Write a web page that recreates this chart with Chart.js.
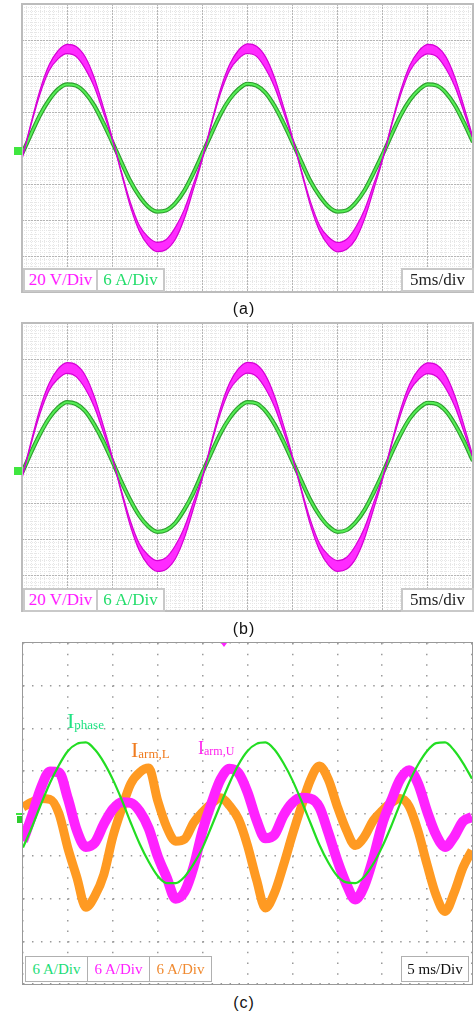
<!DOCTYPE html>
<html>
<head>
<meta charset="utf-8">
<script src="https://cdn.jsdelivr.net/npm/chart.js@4.4.1/dist/chart.umd.min.js"></script>
<style>
  body { margin: 0; width: 474px; height: 1017px; background: #fff; position: relative; overflow: hidden; font-family: "Liberation Serif", "Times New Roman", serif; }
  canvas { position: absolute; }
  .frame { position: absolute; box-sizing: border-box; pointer-events: none; }
  .box { position: absolute; box-sizing: border-box; background: #fff; text-align: center; white-space: nowrap; }
  .boxAB { height: 24px; border: 2px solid #c9c9c9; font-size: 17px; line-height: 20px; }
  .boxC { height: 26px; border: 1px solid #b0b0b0; font-size: 15px; line-height: 24px; }
  .cap { position: absolute; width: 60px; text-align: center; font-family: "Liberation Sans", Arial, sans-serif; font-size: 16px; letter-spacing: 1px; line-height: 20px; color: #111; }
  .lbl { position: absolute; white-space: nowrap; line-height: 1; }
  .lbl span.sub { vertical-align: -1px; line-height: 1; }
  .gnd { position: absolute; background: #3fe63f; }
</style>
</head>
<body>

<canvas id="chartA" width="451" height="288" style="left:22px;top:4px"></canvas>
<canvas id="chartB" width="451" height="288" style="left:22px;top:323px"></canvas>
<canvas id="chartC" width="449" height="341" style="left:23px;top:643px"></canvas>

<div class="frame" style="left:21px;top:3px;width:453px;height:290px;border:2px solid #bcbcbc"></div>
<div class="frame" style="left:21px;top:322px;width:453px;height:290px;border:2px solid #bcbcbc"></div>
<div class="frame" style="left:22px;top:642px;width:451px;height:343px;border:1px solid #999"></div>

<div class="gnd" style="left:14px;top:147px;width:8px;height:8px"></div>
<div class="gnd" style="left:14px;top:467px;width:8px;height:8px"></div>
<div class="gnd" style="left:16px;top:813px;width:6px;height:2px"></div>
<div class="gnd" style="left:17px;top:816px;width:5px;height:7px;background:#2ecc2e"></div>
<div style="position:absolute;left:221px;top:643px;width:0;height:0;border-left:3px solid transparent;border-right:3px solid transparent;border-top:4px solid #ff22ff"></div>

<!-- panel (a) legend -->
<div class="box boxAB" style="left:23px;top:268px;width:75px;color:#ff1aff">20 V/Div</div>
<div class="box boxAB" style="left:96px;top:268px;width:69px;color:#22dd6a">6 A/Div</div>
<div class="box boxAB" style="left:401px;top:268px;width:73px;color:#222">5ms/div</div>
<div class="cap" style="left:214px;top:299px">(a)</div>

<!-- panel (b) legend -->
<div class="box boxAB" style="left:23px;top:588px;width:75px;color:#ff1aff">20 V/Div</div>
<div class="box boxAB" style="left:96px;top:588px;width:69px;color:#22dd6a">6 A/Div</div>
<div class="box boxAB" style="left:401px;top:588px;width:73px;color:#222">5ms/div</div>
<div class="cap" style="left:214px;top:619px">(b)</div>

<!-- panel (c) labels and legend -->
<div class="lbl" style="left:67px;top:710px;font-size:22px;color:#1fe383">I<span class="sub" style="font-size:13px">phase</span></div>
<div class="lbl" style="left:131px;top:739px;font-size:22px;color:#f07b1e">I<span class="sub" style="font-size:13px">arm,L</span></div>
<div class="lbl" style="left:198px;top:739px;font-size:18px;color:#ff22ee">I<span class="sub" style="font-size:12px">arm,U</span></div>
<div class="box boxC" style="left:25px;top:956px;width:63px;color:#22dd77">6 A/Div</div>
<div class="box boxC" style="left:87px;top:956px;width:63px;color:#ff22ff">6 A/Div</div>
<div class="box boxC" style="left:149px;top:956px;width:63px;color:#f08a30">6 A/Div</div>
<div class="box boxC" style="left:401px;top:956px;width:68px;color:#111">5 ms/Div</div>
<div class="cap" style="left:214px;top:993px">(c)</div>

<script>
// time base, 1 ms samples across 10 div x 5 ms
const timeMs = [0,1,2,3,4,5,6,7,8,9,10,11,12,13,14,15,16,17,18,19,20,21,22,23,24,25,
  26,27,28,29,30,31,32,33,34,35,36,37,38,39,40,41,42,43,44,45,46,47,48,49,50];

const VOLT_DIV = 20;
const AMP_DIV = 6;

// (a) voltage band edges (V) and phase current (A)
const vOuterA = [-6.3,13.8,32.3,46.1,54.1,57.6,56.4,50.7,39.2,23.0,5.8,-13.8,-32.3,-46.1,-54.1,-57.6,-56.4,-50.7,-39.2,-23.0,
  -6.1,14.0,32.5,46.2,54.3,57.8,56.5,50.6,39.0,22.8,5.6,-13.9,-32.4,-46.2,-54.2,-57.7,-56.3,-50.6,-39.1,-22.9,
  -6.2,13.9,32.2,46.0,54.0,57.6,56.3,50.6,39.1,22.9,5.8];
const vInnerA = [-5.5,12.8,30.0,42.9,49.5,52.4,50.8,44.1,34.1,20.0,5.0,-12.8,-30.0,-42.9,-49.5,-52.4,-50.8,-44.1,-34.1,-20.0,
  -5.3,13.0,30.2,43.0,49.6,52.5,50.9,44.0,33.9,19.8,4.9,-12.9,-30.1,-43.0,-49.6,-52.5,-50.7,-44.0,-34.0,-19.9,
  -5.4,12.9,29.9,42.8,49.4,52.3,50.7,44.0,34.0,19.9,5.0];
const iGridA = [-1.0,2.3,5.5,8.0,9.8,10.6,10.4,9.2,7.1,4.2,1.0,-2.3,-5.5,-8.0,-9.8,-10.6,-10.4,-9.2,-7.1,-4.2,
  -0.9,2.4,5.6,8.1,9.8,10.7,10.4,9.2,7.0,4.1,0.9,-2.4,-5.6,-8.0,-9.8,-10.6,-10.4,-9.1,-7.0,-4.1,
  -1.0,2.3,5.5,8.0,9.7,10.6,10.4,9.2,7.1,4.2,1.0];

// (b)
const vOuterB = [-6.4,13.9,32.5,46.4,54.5,58.0,56.8,51.0,39.4,23.2,5.8,-13.9,-32.5,-46.4,-54.5,-58.0,-56.8,-51.0,-39.4,-23.2,
  -6.3,14.0,32.6,46.5,54.6,58.1,56.9,50.9,39.3,23.1,5.7,-14.0,-32.6,-46.5,-54.6,-58.0,-56.7,-50.9,-39.3,-23.1,
  -6.4,13.9,32.4,46.3,54.4,57.9,56.7,50.9,39.3,23.1,5.8];
const vInnerB = [-5.4,12.7,29.7,42.5,49.0,52.0,50.2,43.6,33.6,19.6,4.9,-12.7,-29.7,-42.5,-49.0,-52.0,-50.2,-43.6,-33.6,-19.6,
  -5.3,12.8,29.8,42.6,49.1,52.1,50.3,43.5,33.5,19.5,4.8,-12.8,-29.8,-42.6,-49.1,-52.0,-50.1,-43.5,-33.5,-19.5,
  -5.4,12.7,29.6,42.4,48.9,51.9,50.1,43.5,33.5,19.5,4.9];
const iGridB = [-1.0,2.4,5.5,8.1,9.9,10.8,10.5,9.3,7.1,4.3,1.0,-2.4,-5.5,-8.1,-9.9,-10.8,-10.5,-9.3,-7.1,-4.3,
  -0.9,2.4,5.6,8.1,9.9,10.8,10.6,9.3,7.1,4.2,0.9,-2.4,-5.6,-8.1,-9.9,-10.8,-10.5,-9.2,-7.1,-4.2,
  -1.0,2.4,5.5,8.1,9.8,10.7,10.5,9.3,7.1,4.3,1.0];

// (c) currents (A)
const iPhase = [-4.8,-1.9,1.3,4.3,6.8,8.8,9.8,10.0,9.0,7.2,4.8,1.9,-1.3,-4.3,-6.8,-8.8,-9.8,-9.8,-8.9,-7.1,
  -4.8,-1.8,1.3,4.3,6.9,8.8,9.8,10.0,9.0,7.1,4.7,1.8,-1.3,-4.4,-6.9,-8.8,-9.7,-9.8,-8.9,-7.1,
  -4.7,-1.8,1.4,4.4,6.9,8.8,9.9,10.0,8.9,7.1,4.9];
const iArmU = [-3.9,-0.3,3.6,5.9,5.8,2.1,-2.4,-4.7,-4.1,-1.5,0.6,1.6,1.5,0.3,-2.1,-6.0,-9.0,-12.0,-11.0,-7.5,
  -2.4,1.5,4.8,6.3,5.7,3.0,-0.9,-3.5,-3.0,-0.3,1.5,2.2,2.1,0.9,-2.7,-6.6,-9.9,-12.1,-10.2,-6.3,
  -1.5,1.8,4.8,6.1,4.2,0.3,-3.0,-4.7,-3.3,-1.1,-0.5];
const iArmL = [0.9,1.6,2.1,2.0,0.0,-4.9,-9.0,-13.2,-11.6,-8.6,-3.3,0.7,4.2,5.8,6.4,1.8,-1.9,-3.9,-3.6,-1.3,
  0.2,1.4,2.2,1.1,-0.8,-4.5,-9.3,-13.3,-11.2,-7.3,-3.0,1.0,4.7,6.7,4.8,1.0,-2.3,-4.5,-3.3,-1.0,
  0.4,1.5,2.1,1.0,-2.5,-7.2,-11.5,-13.8,-11.2,-7.6,-5.2];

function pts(series, perDiv) {
  return timeMs.map((t, i) => ({ x: t, y: series[i] / perDiv }));
}

function axis(dir, step, color, width, dash) {
  return {
    type: 'linear',
    axis: dir,
    position: dir === 'x' ? 'bottom' : 'left',
    min: dir === 'x' ? 0 : -4,
    max: dir === 'x' ? 50 : 4,
    ticks: { display: false, stepSize: step, autoSkip: false },
    grid: { color: color, lineWidth: width, drawTicks: false },
    border: { display: false, dash: dash },
  };
}

const baseOptions = {
  responsive: false,
  maintainAspectRatio: false,
  devicePixelRatio: 1,
  animation: false,
  layout: { padding: 0 },
  elements: { point: { radius: 0 }, line: { cubicInterpolationMode: 'monotone' } },
  plugins: { legend: { display: false }, tooltip: { enabled: false } },
};

function bandChart(id, outer, inner, current) {
  return new Chart(document.getElementById(id), {
    type: 'line',
    data: {
      datasets: [
        { data: pts(outer, VOLT_DIV), borderColor: '#d400d4', borderWidth: 1.2, fill: false },
        { data: pts(inner, VOLT_DIV), borderColor: '#d400d4', borderWidth: 1.2, backgroundColor: '#ff2bff', fill: '-1' },
        { data: pts(current, AMP_DIV), borderColor: '#55ee55', borderWidth: 2, fill: false },
        { data: pts(current, AMP_DIV), borderColor: '#2c9c2c', borderWidth: 4.2, fill: false },
      ],
    },
    options: {
      ...baseOptions,
      scales: {
        xMinor: axis('x', 0.5, '#e6e6e6', 1, [1, 1]),
        yMinor: axis('y', 0.1, '#e6e6e6', 1, [1, 1]),
        x: axis('x', 5, '#b4b4b4', 1, [2, 1]),
        y: axis('y', 1, '#b4b4b4', 1, [2, 1]),
      },
    },
  });
}

bandChart('chartA', vOuterA, vInnerA, iGridA);
bandChart('chartB', vOuterB, vInnerB, iGridB);

new Chart(document.getElementById('chartC'), {
  type: 'line',
  data: {
    datasets: [
      { label: 'I phase', data: pts(iPhase, AMP_DIV), borderColor: '#22dd22', borderWidth: 2.2, fill: false },
      { label: 'I arm,U', data: pts(iArmU, AMP_DIV), borderColor: '#ff22ff', borderWidth: 10, fill: false },
      { label: 'I arm,L', data: pts(iArmL, AMP_DIV), borderColor: '#ff9a22', borderWidth: 9, fill: false },
    ],
  },
  options: {
    ...baseOptions,
    scales: {
      x: axis('x', 5, '#9a9a9a', 1.5, [1.5, 9.15]),
      y: axis('y', 1, '#9a9a9a', 1.5, [1.5, 7.48]),
    },
  },
});
</script>
</body>
</html>
